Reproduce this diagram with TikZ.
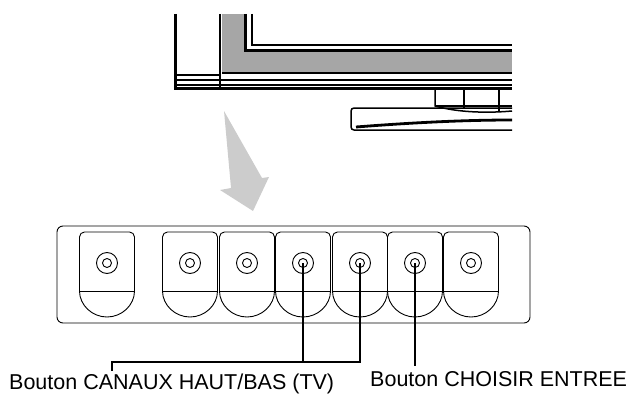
\documentclass[tikz,border=0pt]{standalone}
\usepackage{fontspec}
\setmainfont{Liberation Sans}
\begin{document}
\begin{tikzpicture}[x=1pt,y=-1pt,
  thin line/.style={line width=0.9pt},
  thick line/.style={line width=3pt},
  lbl/.style={font=\fontsize{21.5}{24}\selectfont, inner sep=0pt}]
\useasboundingbox (0,0) rectangle (626,404);
% TV
\fill[black!35] (222,14) rectangle (512,73);
\fill[white] (245,14) rectangle (512,51);
\draw[thick line] (175,14) -- (175,88) -- (512,88);
\draw[line width=1.5pt] (220,14) -- (220,88);
\draw[thick line] (245,14) -- (245,51) -- (512,51);
\draw[line width=1.5pt] (252,14) -- (252,45) -- (512,45);
\draw[line width=1.5pt] (222,73) -- (512,73);
\draw[line width=1.5pt] (175,75) -- (220,75);
\draw[line width=1.5pt] (175,80) -- (512,80);
\draw[line width=2pt] (175,85) -- (512,85);
% stand
\draw[line width=1.5pt] (435,89) -- (435,106) .. controls (460,113) and (490,113) .. (512,111);
\draw[line width=1.5pt] (464,89) -- (464,109);
\draw[line width=1.5pt] (499,89) -- (499,111);
\draw[line width=1.5pt] (435,106) -- (512,106);
\draw[line width=1.5pt, rounded corners=3] (512,108) -- (351,108) -- (351,130) -- (512,130);
\draw[line width=2.8pt] (356,127) .. controls (420,122) and (470,120) .. (512,120);
% arrow
\fill[black!20] (224,111) -- (262,178) -- (269,177) -- (253,211) -- (220,190) -- (231,188) -- cycle;
% panel
\draw[thin line, rounded corners=6] (57,226) rectangle (530,323);
\foreach \n/\cx in {1/107,2/190,3/247,4/303,5/360,6/415,7/471}{
  \pgfmathsetmacro{\l}{\cx-27.5}\pgfmathsetmacro{\r}{\cx+27.5}
  \draw[thin line] (\l,291) [rounded corners=5] -- (\l,232) -- (\r,232) [sharp corners] -- (\r,291)
     .. controls (\r,305) and (\cx+15,317) .. (\cx,317) .. controls (\cx-15,317) and (\l,305) .. (\l,291) -- cycle;
  \draw[thin line] (\l,291) -- (\r,291);
  \node[circle,draw,thin line,minimum size=21pt,inner sep=0pt] (o\n) at (\cx,263) {};
  \node[circle,draw,thin line,minimum size=9pt,inner sep=0pt] (i\n) at (\cx,263) {};
}
% labels
\node[lbl,anchor=west] (la) at (9,384) {Bouton CANAUX HAUT/BAS (TV)};
\node[lbl,anchor=west] (lb) at (370,379) {Bouton CHOISIR ENTREE};
\coordinate (j) at (112,362);
\draw[line width=2pt] (i4.center) -- (303,362);
\draw[line width=2pt] (i5.center) -- (360,362) -- (j) -- (112,371);
\draw[line width=2pt] (i6.center) -- (415,366);
\end{tikzpicture}
\end{document}
